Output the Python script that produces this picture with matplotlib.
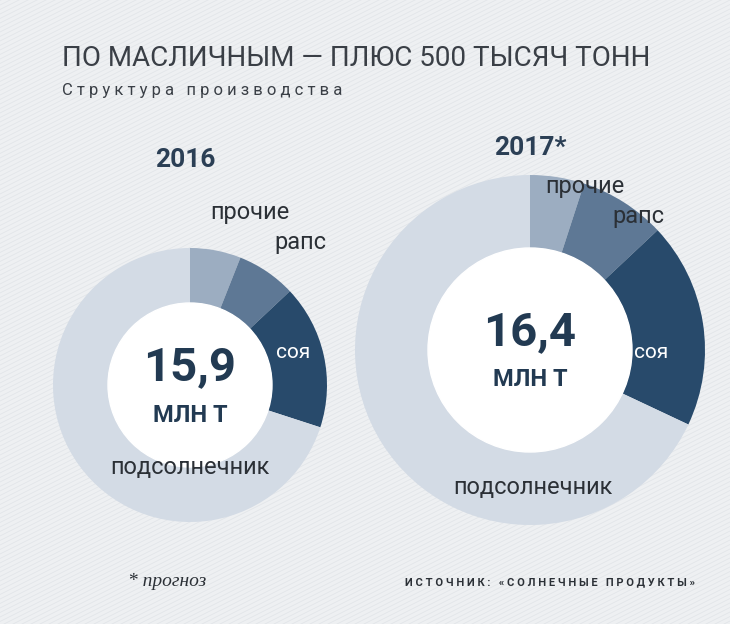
import matplotlib
matplotlib.use("Agg")
import matplotlib.pyplot as plt
from matplotlib.patches import Circle
import numpy as np

years = ["2016", "2017*"]
totals = ["15,9", "16,4"]
categories = ["прочие", "рапс", "соя", "подсолнечник"]
shares_2016 = [6, 7, 17, 70]
shares_2017 = [5, 8, 19, 68]
colors = ["#9cadc1", "#5e7895", "#284a6b", "#d3dbe5"]

H = 624
fig = plt.figure(figsize=(7.3, 6.24), dpi=100)
fig.patch.set_facecolor("#eef0f2")
ax = fig.add_axes([0, 0, 1, 1])
ax.set_facecolor("#eef0f2")
for s in np.arange(-1400, 740, 9):
    ax.plot([s, s + 1300], [0, 650], color="#e2e5e9", lw=0.6, zorder=0)
FN = ["Roboto", "DejaVu Sans"]

def donut(cx, cy, r, rin, vals):
    ax.pie(vals, center=(cx, H - cy), radius=r, startangle=90, counterclock=False,
           colors=colors, wedgeprops=dict(width=r - rin, linewidth=0, zorder=2), frame=True)
    ax.add_patch(Circle((cx, H - cy), rin, color="white", zorder=3))

donut(190, 385, 137, 82, shares_2016)
donut(530, 350, 175, 102, shares_2017)
ax.set_xlim(0, 730); ax.set_ylim(0, H); ax.set_aspect("equal"); ax.axis("off")

dark = "#2b3f55"
ax.text(62, H - 58, "ПО МАСЛИЧНЫМ — ПЛЮС 500 ТЫСЯЧ ТОНН", fontsize=20, family=FN, color="#3a3f46", va="center")
ax.text(62, H - 90, "С т р у к т у р а   п р о и з в о д с т в а", fontsize=12, family=FN, color="#3a3f46", va="center")
ax.text(185, H - 160, years[0], fontsize=19, weight="bold", family=FN, color=dark, ha="center", va="center")
ax.text(530, H - 148, years[1], fontsize=19, weight="bold", family=FN, color=dark, ha="center", va="center")
for cx, cy, t in [(190, 385, totals[0]), (530, 350, totals[1])]:
    ax.text(cx, H - cy + 18, t, fontsize=34, weight="bold", family=FN, color="#223a52", ha="center", va="center", zorder=4)
    ax.text(cx, H - cy - 30, "МЛН Т", fontsize=17, weight="bold", family=FN, color="#223a52", ha="center", va="center", zorder=4)
lab = dict(fontsize=17, family=FN, color="#2b3036", va="center", zorder=5)
ax.text(210, H - 212, categories[0], **lab)
ax.text(274, H - 243, categories[1], **lab)
ax.text(276, H - 352, categories[2], color="white", fontsize=15, family=FN, va="center", zorder=5)
ax.text(110, H - 468, categories[3], **lab)
ax.text(545, H - 186, categories[0], **lab)
ax.text(612, H - 216, categories[1], **lab)
ax.text(634, H - 352, categories[2], color="white", fontsize=15, family=FN, va="center", zorder=5)
ax.text(453, H - 487, categories[3], **lab)
ax.text(128, H - 582, "* прогноз", fontsize=14, style="italic", family=["Liberation Serif"], color="#2b3036", va="center")
ax.text(695, H - 582, "И С Т О Ч Н И К :   « С О Л Н Е Ч Н Ы Е   П Р О Д У К Т Ы »", fontsize=8, weight="bold",
        family=FN, color="#2b3036", ha="right", va="center")
fig.savefig("out.png", dpi=100, facecolor=fig.get_facecolor())
